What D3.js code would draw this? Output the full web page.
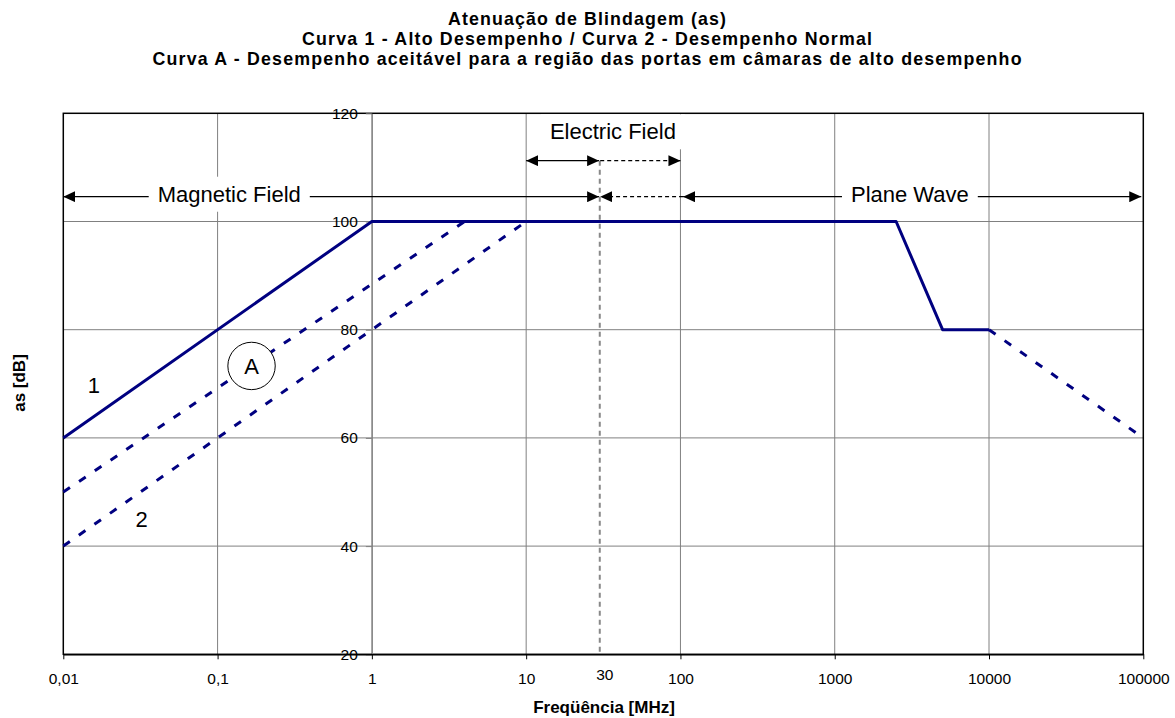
<!DOCTYPE html>
<html>
<head>
<meta charset="utf-8">
<script src="https://cdn.jsdelivr.net/npm/d3@7"></script>
<style>
  body { margin: 0; background: #fff; }
  svg { display: block; font-family: "Liberation Sans", Arial, sans-serif; }
</style>
</head>
<body>
<svg width="1175" height="718"></svg>
<script>
var freq1 = [0.01, 1, 2500, 5000, 10000],
  curve1 = [60, 100, 100, 80, 80];
var freq1Ext = [10000, 100000],
  curve1Ext = [80, 60];
var freqA = [0.01, 4],
  curveA = [50, 100];
var freq2 = [0.01, 10],
  curve2 = [40, 100];

var xTicks = [0.01, 0.1, 1, 10, 100, 1000, 10000, 100000],
  xTickLabels = ["0,01", "0,1", "1", "10", "100", "1000", "10000", "100000"],
  yTicks = [20, 40, 60, 80, 100, 120];

var titleLines = [
  "Atenuação de Blindagem (as)",
  "Curva 1 - Alto Desempenho / Curva 2 - Desempenho Normal",
  "Curva A - Desempenho aceitável para a região das portas em câmaras de alto desempenho"
];
var titleWidths = [278, 570, 869];

var svg = d3.select("svg"),
  margin = { top: 113.3, right: 31.7, bottom: 63.7, left: 63.3 },
  width = +svg.attr("width") - margin.left - margin.right,
  height = +svg.attr("height") - margin.top - margin.bottom;

var x = d3.scaleLog().domain([0.01, 100000]).range([0, width]),
  y = d3.scaleLinear().domain([20, 120]).range([height, 0]);

var navy = "#000080",
  grid = "#808080";

svg.append("defs")
  .append("marker")
  .attr("id", "arrow")
  .attr("viewBox", "0 0 12 11")
  .attr("refX", 12)
  .attr("refY", 5.5)
  .attr("markerWidth", 12)
  .attr("markerHeight", 11)
  .attr("markerUnits", "userSpaceOnUse")
  .attr("orient", "auto-start-reverse")
  .append("path")
  .attr("d", "M0,0L12,5.5L0,11Z")
  .attr("fill", "#000");

svg.selectAll(".title")
  .data(titleLines)
  .enter()
  .append("text")
  .attr("class", "title")
  .attr("x", 587)
  .attr("y", function (d, i) { return 24.5 + i * 20.2; })
  .attr("text-anchor", "middle")
  .attr("textLength", function (d, i) { return titleWidths[i]; })
  .attr("lengthAdjust", "spacing")
  .style("font-size", "17.8px")
  .style("font-weight", "bold")
  .text(function (d) { return d; });

var g = svg.append("g")
  .attr("transform", "translate(" + margin.left + "," + margin.top + ")");

// grid
g.selectAll(".hgrid")
  .data(yTicks.slice(1, -1))
  .enter()
  .append("line")
  .attr("x1", 0)
  .attr("x2", width)
  .attr("y1", function (d) { return y(d); })
  .attr("y2", function (d) { return y(d); })
  .attr("stroke", grid)
  .attr("stroke-width", 1);

g.selectAll(".vgrid")
  .data(xTicks.slice(1, -1))
  .enter()
  .append("line")
  .attr("x1", function (d) { return x(d); })
  .attr("x2", function (d) { return x(d); })
  .attr("y1", 0)
  .attr("y2", height)
  .attr("stroke", grid)
  .attr("stroke-width", 1);

g.append("rect")
  .attr("width", width)
  .attr("height", height)
  .attr("fill", "none")
  .attr("stroke", "#000")
  .attr("stroke-width", 1.5);

// axes
var yAxis = g.append("g")
  .attr("transform", "translate(" + x(1) + ",0)")
  .call(d3.axisLeft(y).tickValues(yTicks).tickSize(6).tickSizeOuter(0).tickPadding(8))
  .attr("font-size", null)
  .attr("font-family", null);
yAxis.selectAll("path, line").attr("stroke", grid);
yAxis.selectAll("text").style("font-size", "15.5px").attr("fill", "#000");

var xAxis = g.append("g")
  .attr("transform", "translate(0," + height + ")")
  .call(d3.axisBottom(x).tickValues(xTicks)
    .tickFormat(function (d, i) { return xTickLabels[i]; })
    .tickSize(5).tickSizeOuter(0).tickPadding(14))
  .attr("font-size", null)
  .attr("font-family", null);
xAxis.select(".domain").attr("stroke", "#000").attr("stroke-width", 1.5);
xAxis.selectAll("line").attr("stroke", "#000");
xAxis.selectAll("text").style("font-size", "15.5px").attr("fill", "#000");

g.append("text")
  .attr("x", x(30) + 5)
  .attr("y", height + 26)
  .attr("text-anchor", "middle")
  .style("font-size", "15.5px")
  .text("30");

// region arrows
var rowE = 111.24,
  rowM = 104.58;

g.append("line")
  .attr("x1", x(30)).attr("x2", x(30))
  .attr("y1", y(rowE)).attr("y2", height)
  .attr("stroke", "#888")
  .attr("stroke-width", 2)
  .attr("stroke-dasharray", "5,4");

function arrow(f1, f2, v, dashed, both) {
  var l = g.append("line")
    .attr("x1", x(f1)).attr("x2", x(f2))
    .attr("y1", y(v)).attr("y2", y(v))
    .attr("stroke", "#000")
    .attr("stroke-width", 1.2)
    .attr("marker-end", "url(#arrow)");
  if (dashed) l.attr("stroke-dasharray", "4,3");
  if (both) l.attr("marker-start", "url(#arrow)");
  return l;
}

arrow(10, 29.7, rowE, false, true);
arrow(30.2, 100, rowE, true, false);
arrow(0.01, 29.7, rowM, false, true);
arrow(104, 30.2, rowM, true, false);
arrow(104, 97000, rowM, false, true);

function label(txt, f, yy) {
  var t = g.append("text")
    .attr("x", x(f))
    .attr("y", yy)
    .attr("text-anchor", "middle")
    .style("font-size", "22px")
    .text(txt);
  var b = t.node().getBBox();
  g.insert("rect", function () { return t.node(); })
    .attr("x", b.x - 9)
    .attr("y", b.y - 5)
    .attr("width", b.width + 18)
    .attr("height", b.height + 10)
    .attr("fill", "#fff");
}

label("Magnetic Field", 0.119, y(rowM) + 5);
label("Electric Field", 36.5, y(rowE) - 21.4);
label("Plane Wave", 3070, y(rowM) + 5);

// curves
var line = d3.line()
  .x(function (d) { return x(d[0]); })
  .y(function (d) { return y(d[1]); });

function pts(f, v) {
  return f.map(function (d, i) { return [d, v[i]]; });
}

g.append("path")
  .datum(pts(freqA, curveA))
  .attr("d", line)
  .attr("fill", "none")
  .attr("stroke", navy)
  .attr("stroke-width", 3)
  .attr("stroke-dasharray", "8,11");

g.append("path")
  .datum(pts(freq2, curve2))
  .attr("d", line)
  .attr("fill", "none")
  .attr("stroke", navy)
  .attr("stroke-width", 3)
  .attr("stroke-dasharray", "8,11");

g.append("path")
  .datum(pts(freq1Ext, curve1Ext))
  .attr("d", line)
  .attr("fill", "none")
  .attr("stroke", navy)
  .attr("stroke-width", 3)
  .attr("stroke-dasharray", "8,11");

g.append("path")
  .datum(pts(freq1, curve1))
  .attr("d", line)
  .attr("fill", "none")
  .attr("stroke", navy)
  .attr("stroke-width", 3)
  .attr("stroke-linejoin", "round");

// curve labels
g.append("circle")
  .attr("cx", x(0.166))
  .attr("cy", y(73.3))
  .attr("r", 23.7)
  .attr("fill", "#fff")
  .attr("stroke", "#000")
  .attr("stroke-width", 1);

g.selectAll(".clabel")
  .data([["A", 0.166, 73.3], ["1", 0.0158, 69.8], ["2", 0.0322, 45.0]])
  .enter()
  .append("text")
  .attr("x", function (d) { return x(d[1]); })
  .attr("y", function (d) { return y(d[2]) + 8; })
  .attr("text-anchor", "middle")
  .style("font-size", "22px")
  .text(function (d) { return d[0]; });

// axis titles
svg.append("text")
  .attr("transform", "translate(25,383) rotate(-90)")
  .attr("text-anchor", "middle")
  .style("font-size", "17px")
  .style("font-weight", "bold")
  .text("as [dB]");

svg.append("text")
  .attr("x", 604)
  .attr("y", 713)
  .attr("text-anchor", "middle")
  .style("font-size", "17px")
  .style("font-weight", "bold")
  .text("Freqüência [MHz]");
</script>
</body>
</html>
